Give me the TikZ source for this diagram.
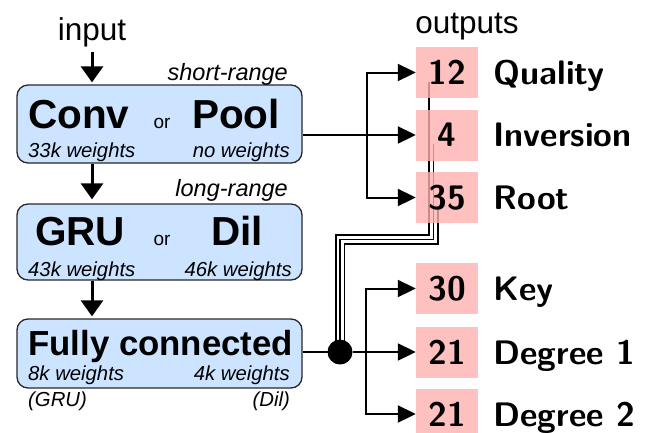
\documentclass[tikz,border=0pt]{standalone}
\usepackage{fontspec}
\newfontfamily\arial{Liberation Sans}
\usetikzlibrary{arrows.meta,calc}
\pgfdeclarelayer{bg}
\pgfsetlayers{bg,main}
\definecolor{boxblue}{RGB}{204,228,255}
\definecolor{outpink}{RGB}{255,176,176}
\definecolor{boxedge}{RGB}{40,40,40}
\tikzset{
 lbox/.style={draw=boxedge, line width=1.3pt, fill=boxblue, rounded corners=11pt, minimum width=285pt, inner sep=0pt},
 bigtxt/.style={font=\arial\bfseries\fontsize{40.5}{40.5}\selectfont, inner sep=0pt},
 fctxt/.style={font=\arial\bfseries\fontsize{34.8}{34.8}\selectfont, inner sep=0pt},
 ortxt/.style={font=\arial\fontsize{19}{19}\selectfont, inner sep=0pt, anchor=base},
 wtxt/.style={font=\arial\itshape\fontsize{20.3}{20.3}\selectfont, inner sep=0pt},
 rangetxt/.style={font=\arial\itshape\fontsize{23.5}{23.5}\selectfont, inner sep=0pt, anchor=base east},
 iotxt/.style={font=\arial\fontsize{31.5}{31.5}\selectfont, inner sep=0pt, anchor=base},
 obox/.style={fill=outpink, fill opacity=0.8, text opacity=1, minimum width=62pt, minimum height=51pt, inner sep=0pt, font=\sffamily\bfseries\fontsize{34}{34}\selectfont},
 olabel/.style={font=\sffamily\bfseries\fontsize{34}{34}\selectfont, inner sep=0pt, anchor=base west},
 larrow/.style={line width=3pt, -{Triangle[width=22pt,length=16pt]}},
 rarrow/.style={line width=2pt, -{Triangle[width=17pt,length=18pt]}},
 rline/.style={line width=2pt},
 tline/.style={line width=1.6pt},
 jointdot/.style={circle, fill=black, minimum size=25pt, inner sep=0pt},
}
\begin{document}
\begin{tikzpicture}[x=1pt,y=-1pt]
\useasboundingbox (0,0) rectangle (651,432);
% left boxes
\node[lbox, minimum height=78pt] (b1) at (159.5,124) {};
\node[lbox, minimum height=76pt] (b2) at (159.5,242) {};
\node[lbox, minimum height=69pt] (b3) at (159.5,353.5) {};
% texts box 1
\node[bigtxt, anchor=base west] (conv) at (28,128) {Conv};
\node[ortxt] (or1) at (162,128) {or};
\node[bigtxt, anchor=base east] (pool) at (280,128) {Pool};
\node[wtxt, anchor=base west] (w1) at (28,157) {33k weights};
\node[wtxt, anchor=base east] (w2) at (290,157) {no weights};
% texts box 2
\node[bigtxt, anchor=base west] (gru) at (35,245) {GRU};
\node[ortxt] (or2) at (162,245) {or};
\node[bigtxt, anchor=base] (dil) at (237,245) {Dil};
\node[wtxt, anchor=base west] (w3) at (28,276) {43k weights};
\node[wtxt, anchor=base east] (w4) at (292,276) {46k weights};
% texts box 3
\node[fctxt, anchor=base west] (fc) at (28,355) {Fully connected};
\node[wtxt, anchor=base west] (w5) at (28,380) {8k weights};
\node[wtxt, anchor=base east] (w6) at (290,380) {4k weights};
\node[wtxt, anchor=base west] (n1) at (28,406) {(GRU)};
\node[wtxt, anchor=base east] (n2) at (290,406) {(Dil)};
% range labels
\node[rangetxt] (sr) at (288,80) {short-range};
\node[rangetxt] (lr) at (288,196) {long-range};
% input / outputs
\node[iotxt] (input) at (92,40) {input};
\node[iotxt] (outputs) at (467,33) {outputs};
% left arrows
\draw[larrow] ([yshift=-5pt]input.south) -- ([yshift=2pt]input.south |- b1.north);
\draw[larrow] (b1.south -| input) -- ([yshift=4pt]b2.north -| input);
\draw[larrow] (b2.south -| input) -- ([yshift=2pt]b3.north -| input);
% output boxes
\node[obox] (o1) at (447,72.5) {12};
\node[obox] (o2) at (447,135) {4};
\node[obox] (o3) at (447,197.5) {35};
\node[obox] (o4) at (447,288.5) {30};
\node[obox] (o5) at (447,352) {21};
\node[obox] (o6) at (447,414) {21};
\node[olabel] (l1) at ([xshift=15pt]o1.base east) {Quality};
\node[olabel] (l2) at ([xshift=15pt]o2.base east) {Inversion};
\node[olabel] (l3) at ([xshift=15pt]o3.base east) {Root};
\node[olabel] (l4) at ([xshift=15pt]o4.base east) {Key};
\node[olabel] (l5) at ([xshift=15pt]o5.base east) {Degree 1};
\node[olabel] (l6) at ([xshift=15pt]o6.base east) {Degree 2};
% top connectors
\coordinate (j1) at (367,135);
\draw[rarrow] (o2.west -| b1.east) -- (o2.west);
\draw[rarrow] (j1) |- (o1.west);
\draw[rarrow] (j1) |- (o3.west);
% bottom connectors
\node[jointdot] (dot) at (340,352) {};
\coordinate (j2) at (366,352);
\draw[rline] (dot.center -| b3.east) -- (dot.center);
\draw[rarrow] (dot) -- (o5.west);
\draw[rarrow] (j2) |- (o4.west);
\draw[rarrow] (j2) |- (o6.west);
% triple line
\coordinate (tb) at (433.3,239.5);
\begin{pgfonlayer}{bg}
\draw[tline] ($(dot.center)+(-4.3,0)$) |- ($(tb)+(-4.4,-4.4)$) -- ($(tb |- o1.center)+(-4.4,9)$);
\draw[tline] (dot.center) |- (tb) -- ($(tb |- o2.center)+(0,9)$);
\draw[tline] ($(dot.center)+(4.3,0)$) |- ($(tb)+(4.4,4.4)$) -- ($(tb |- o3.center)+(4.4,9)$);
\end{pgfonlayer}
\end{tikzpicture}
\end{document}
